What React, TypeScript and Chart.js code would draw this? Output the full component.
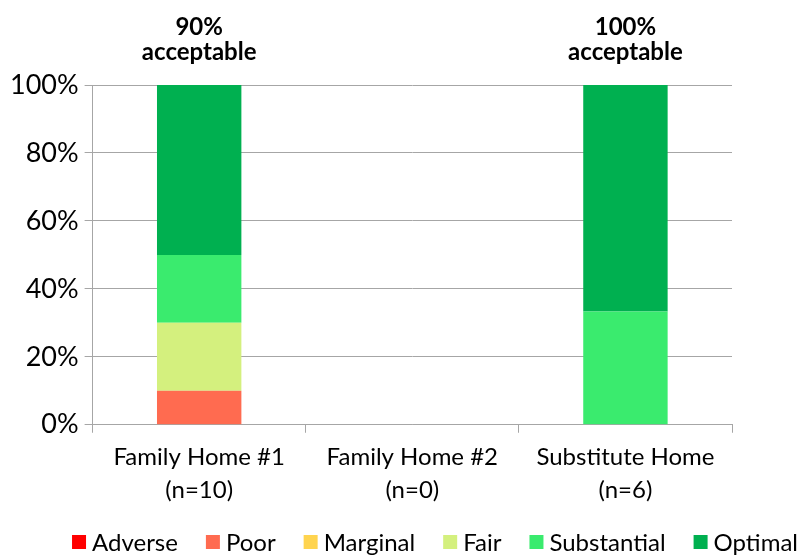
import React, { useEffect, useRef } from "react";
import { Chart, registerables } from "chart.js";

Chart.register(...registerables);

const categories: string[][] = [
  ["Family Home #1", "(n=10)"],
  ["Family Home #2", "(n=0)"],
  ["Substitute Home", "(n=6)"],
];
const annotations: string[][] = [["90%", "acceptable"], [], ["100%", "acceptable"]];
const seriesNames = ["Adverse", "Poor", "Marginal", "Fair", "Substantial", "Optimal"];
const adverse = [0, 0, 0];
const poor = [10, 0, 0];
const marginal = [0, 0, 0];
const fair = [20, 0, 0];
const substantial = [20, 0, 33.3];
const optimal = [50, 0, 66.7];
const colors = ["#FF0000", "#FF6B50", "#FFD44F", "#D4F07E", "#3AEB6E", "#00B050"];
const yTicks = [0, 20, 40, 60, 80, 100];

const FONT = "Lato, 'Open Sans', sans-serif";

const annotationPlugin = {
  id: "topAnnotations",
  afterDraw(chart: any) {
    const ctx = chart.ctx;
    const x = chart.scales.x;
    const top = chart.chartArea.top;
    ctx.save();
    ctx.fillStyle = "#000";
    ctx.font = `bold 24px ${FONT}`;
    ctx.textAlign = "center";
    ctx.textBaseline = "middle";
    annotations.forEach((lines, i) => {
      const px = x.getPixelForValue(i);
      lines.forEach((t, j) => {
        ctx.fillText(t, px, top - 58 + j * 25);
      });
    });
    ctx.restore();
  },
};

const legendPlugin = {
  id: "customLegend",
  afterDraw(chart: any) {
    const ctx = chart.ctx;
    ctx.save();
    ctx.font = `24px ${FONT}`;
    ctx.textBaseline = "middle";
    ctx.textAlign = "left";
    const box = 14;
    const gap = 6;
    const spacing = 28;
    const items = chart.data.datasets.map((d: any) => ({
      label: d.label,
      color: d.backgroundColor,
      w: box + gap + ctx.measureText(d.label).width,
    }));
    const total = items.reduce((s: number, it: any) => s + it.w, 0) + spacing * (items.length - 1);
    let x = 435 - total / 2;
    const y = 542;
    items.forEach((it: any) => {
      ctx.fillStyle = it.color;
      ctx.fillRect(x, y - box / 2, box, box);
      ctx.fillStyle = "#000";
      ctx.fillText(it.label, x + box + gap, y + 1);
      x += it.w + spacing;
    });
    ctx.restore();
  },
};

export default function App() {
  const ref = useRef<HTMLCanvasElement>(null);
  useEffect(() => {
    document.body.style.margin = "0";
    const data = [adverse, poor, marginal, fair, substantial, optimal];
    const chart = new Chart(ref.current!, {
      type: "bar",
      data: {
        labels: categories,
        datasets: seriesNames.map((n, i) => ({
          label: n,
          data: data[i],
          backgroundColor: colors[i],
          borderWidth: 0,
          categoryPercentage: 1,
          barPercentage: 0.396,
        })),
      },
      options: {
        animation: false,
        responsive: true,
        maintainAspectRatio: false,
        layout: { padding: { top: 85, right: 68, left: 4, bottom: 41 } },
        plugins: {
          tooltip: { enabled: false },
          legend: { display: false },
        },
        scales: {
          x: {
            stacked: true,
            grid: {
              offset: true,
              drawOnChartArea: false,
              drawTicks: true,
              tickLength: 8,
              color: "#A6A6A6",
            },
            border: { color: "#A6A6A6" },
            ticks: {
              color: "#000",
              font: { family: FONT, size: 24, lineHeight: 1.38 },
              padding: 8,
              maxRotation: 0,
            },
          },
          y: {
            stacked: true,
            min: 0,
            max: 100,
            afterBuildTicks: (axis: any) => {
              axis.ticks = yTicks.map((v) => ({ value: v }));
            },
            grid: { color: "#A6A6A6", tickLength: 8 },
            border: { color: "#A6A6A6" },
            ticks: {
              color: "#000",
              font: { family: FONT, size: 27 },
              padding: 6,
              callback: (v: any) => `${v}%`,
            },
          },
        },
      },
      plugins: [annotationPlugin, legendPlugin],
    });
    return () => chart.destroy();
  }, []);
  return (
    <div style={{ width: 800, height: 556, position: "relative" }}>
      <canvas ref={ref} />
    </div>
  );
}
